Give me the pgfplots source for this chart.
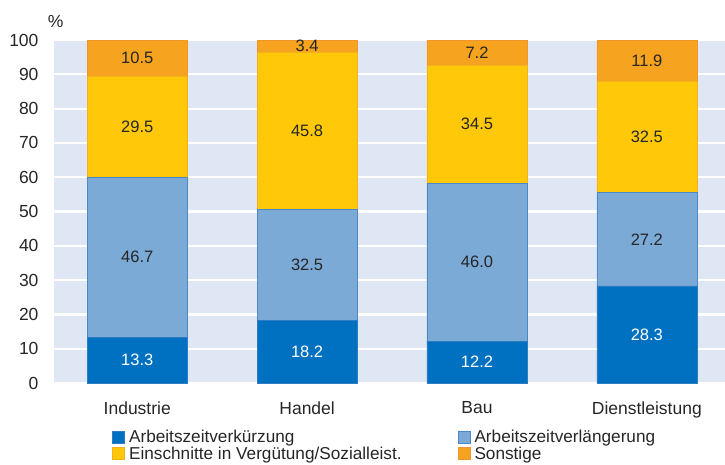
\documentclass[border=0pt]{standalone}
\usepackage{pgfplots}
\pgfplotsset{compat=1.18}
\usepackage{fontspec}
\setmainfont{Liberation Sans}
\definecolor{bg}{HTML}{E0E7F4}
\definecolor{cA}{HTML}{0070C0}
\definecolor{cAe}{HTML}{2F7CC4}
\definecolor{cB}{HTML}{7BAAD6}
\definecolor{cBe}{HTML}{4A88C8}
\definecolor{cC}{HTML}{FFC90A}
\definecolor{cCe}{HTML}{F5B01E}
\definecolor{cD}{HTML}{F6A31F}
\definecolor{cDe}{HTML}{F0962A}
\definecolor{txt}{HTML}{262626}
\tikzset{lbl/.style={font=\fontsize{16.5}{19}\selectfont, text=txt}}
\pgfplotsset{common/.style={
  at={(0pt,0pt)}, anchor=south west,
  scale only axis, width=671pt, height=343pt,
  xmin=-0.49, xmax=3.46, ymin=0, ymax=100, clip=false}}
\begin{document}
\begin{tikzpicture}
\path[use as bounding box] (-54pt,-81pt) rectangle (671pt,383pt);
\begin{axis}[
  common,
  ybar stacked, bar width=100pt,
  xtick={0,1,2,3}, xticklabels={Industrie,Handel,Bau,Dienstleistung},
  ytick={0,10,...,100},
  axis line style={draw=none}, major tick length=0pt,
  axis background/.style={fill=bg},
  ymajorgrids, grid style={white, line width=2.2pt},
  tick label style={font=\fontsize{17.5}{20}\selectfont, text=txt},
  /pgf/number format/assume math mode=true,
  yticklabel style={xshift=-12pt},
  xticklabel style={yshift=-15pt},
  legend style={draw=none, fill=none, at={(55pt,-44.5pt)}, anchor=north west,
    legend columns=2, font=\fontsize{17.2}{19}\selectfont, text=txt,
    cells={anchor=west}, row sep=1.5pt,
    nodes={inner sep=0.5pt}, /tikz/every odd column/.append style={column sep=4pt}},
  legend image code/.code={\draw[#1] (0pt,-6pt) rectangle (12pt,6pt);},
]
\addplot[fill=cA, draw=cAe] coordinates {(0,13.3) (1,18.2) (2,12.2) (3,28.3)};
\addlegendentry{\makebox[328pt][l]{Arbeitszeitverkürzung}}
\addplot[fill=cB, draw=cBe] coordinates {(0,46.7) (1,32.5) (2,46.0) (3,27.2)};
\addlegendentry{Arbeitszeitverlängerung}
\addplot[fill=cC, draw=cCe] coordinates {(0,29.5) (1,45.8) (2,34.5) (3,32.5)};
\addlegendentry{\makebox[328pt][l]{Einschnitte in Vergütung/Sozialleist.}}
\addplot[fill=cD, draw=cDe] coordinates {(0,10.5) (1,3.4) (2,7.2) (3,11.9)};
\addlegendentry{Sonstige}
\end{axis}
\begin{axis}[common, hide axis]
\node[lbl, text=white] at (axis cs:0,6.65) {13.3};
\node[lbl, text=white] at (axis cs:1,9.1) {18.2};
\node[lbl, text=white] at (axis cs:2,6.1) {12.2};
\node[lbl, text=white] at (axis cs:3,14.15) {28.3};
\node[lbl] at (axis cs:0,36.65) {46.7};
\node[lbl] at (axis cs:1,34.45) {32.5};
\node[lbl] at (axis cs:2,35.2) {46.0};
\node[lbl] at (axis cs:3,41.9) {27.2};
\node[lbl] at (axis cs:0,74.75) {29.5};
\node[lbl] at (axis cs:1,73.6) {45.8};
\node[lbl] at (axis cs:2,75.45) {34.5};
\node[lbl] at (axis cs:3,71.75) {32.5};
\node[lbl] at (axis cs:0,94.75) {10.5};
\node[lbl] at (axis cs:1,98.2) {3.4};
\node[lbl] at (axis cs:2,96.3) {7.2};
\node[lbl] at (axis cs:3,93.95) {11.9};
\node[font=\fontsize{17.5}{20}\selectfont, text=txt] at (axis cs:-0.48,105.5) {\%};
\end{axis}
\end{tikzpicture}
\end{document}
